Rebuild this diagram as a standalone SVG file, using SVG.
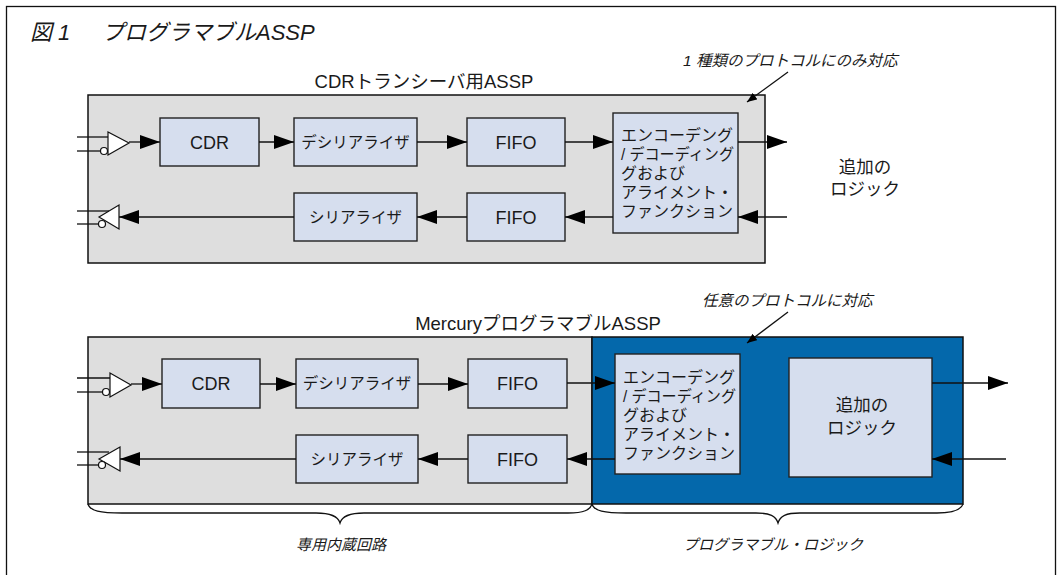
<svg xmlns="http://www.w3.org/2000/svg" width="1060" height="575" viewBox="0 0 1060 575">
<style>
text{font-family:"Liberation Sans","Noto Sans CJK JP",sans-serif;fill:#1a1a1a}
.it{font-style:italic}
.panel{fill:#dedede;stroke:#111;stroke-width:1.5}
.blue{fill:#0468ab;stroke:#111;stroke-width:1.5}
.box{fill:#d6deee;stroke:#222;stroke-width:1.4}
.ln{fill:none;stroke:#111;stroke-width:1.3}
.buf{fill:#fff;stroke:#111;stroke-width:1.2}
.c{text-anchor:middle}
.lbl{font-size:18.5px}
.b18{font-size:18px}
.b15{font-size:15.5px}
.b16{font-size:16px}
.b17{font-size:17.5px}
.ann{font-size:15.5px}
</style>
<defs>
<marker id="ah" markerUnits="userSpaceOnUse" markerWidth="20" markerHeight="14" refX="20" refY="7" orient="auto">
<path d="M0,0 L20,7 L0,14 z" fill="#000"/>
</marker>
<marker id="sa" markerUnits="userSpaceOnUse" markerWidth="10" markerHeight="8" refX="10" refY="4" orient="auto">
<path d="M0,0 L10,4 L0,8 z" fill="#000"/>
</marker>
</defs>

<rect x="6.5" y="6.5" width="1049" height="600" fill="#fff" stroke="#111" stroke-width="1.3"/>
<text x="30" y="40" class="it" style="font-size:22px">図 1<tspan x="102">プログラマブルASSP</tspan></text>

<!-- top section -->
<g id="cdr-assp">
<rect class="panel" x="88" y="95" width="677" height="168"/>
<text class="c lbl" x="424" y="88">CDRトランシーバ用ASSP</text>
</g>
<g id="t-cdr"><rect class="box" x="160" y="118" width="99" height="48"/><text class="c b18" x="209.5" y="148.5">CDR</text></g>
<g id="t-deser"><rect class="box" x="294" y="118" width="123" height="48"/><text class="c b15" x="355.5" y="147.5">デシリアライザ</text></g>
<g id="t-fifo1"><rect class="box" x="467" y="118" width="98" height="48"/><text class="c b18" x="516" y="148.5">FIFO</text></g>
<g id="t-ser"><rect class="box" x="294" y="193" width="123" height="48"/><text class="c b15" x="355.5" y="222.5">シリアライザ</text></g>
<g id="t-fifo2"><rect class="box" x="467" y="193" width="98" height="48"/><text class="c b18" x="516" y="223.5">FIFO</text></g>
<g id="t-enc"><rect class="box" x="613" y="113" width="125" height="120"/>
<text class="b16" x="621" y="141">エンコーデング</text>
<text class="b16" x="621" y="160" textLength="113" lengthAdjust="spacingAndGlyphs">/ デコーディング</text>
<text class="b16" x="621" y="179">グおよび</text>
<text class="b16" x="621" y="198">アライメント・</text>
<text class="b16" x="621" y="217">ファンクション</text>
</g>
<g id="t-logic"><text class="c b17" x="865" y="173">追加の</text><text class="c b17" x="865" y="195">ロジック</text></g>
<g id="t-inbuf">
<polygon class="buf" points="108,132 108,155 129,143"/>
<circle class="buf" cx="104" cy="151" r="3.5"/>
</g>
<g id="t-outbuf">
<polygon class="buf" points="99,217 119,205 119,229"/>
<circle class="buf" cx="102" cy="224" r="3.5"/>
</g>
<g id="t-note">
<text class="it ann" x="683" y="66">1 種類のプロトコルにのみ対応</text>
</g>

<!-- bottom section -->
<g id="mercury">
<rect class="panel" x="88" y="337" width="504" height="167"/>
<rect class="blue" x="592" y="337" width="371" height="167"/>
<text class="c lbl" x="538" y="330">MercuryプログラマブルASSP</text>
</g>
<g id="b-cdr"><rect class="box" x="162" y="359" width="98" height="49"/><text class="c b18" x="211" y="390">CDR</text></g>
<g id="b-deser"><rect class="box" x="296" y="359" width="122" height="49"/><text class="c b15" x="357" y="389">デシリアライザ</text></g>
<g id="b-fifo1"><rect class="box" x="468" y="359" width="99" height="49"/><text class="c b18" x="517.5" y="390">FIFO</text></g>
<g id="b-ser"><rect class="box" x="296" y="435" width="122" height="48"/><text class="c b15" x="357" y="464.5">シリアライザ</text></g>
<g id="b-fifo2"><rect class="box" x="468" y="435" width="99" height="48"/><text class="c b18" x="517.5" y="465.5">FIFO</text></g>
<g id="b-enc"><rect class="box" x="615" y="354" width="125" height="120"/>
<text class="b16" x="623" y="383">エンコーデング</text>
<text class="b16" x="623" y="402" textLength="113" lengthAdjust="spacingAndGlyphs">/ デコーディング</text>
<text class="b16" x="623" y="421">グおよび</text>
<text class="b16" x="623" y="440">アライメント・</text>
<text class="b16" x="623" y="459">ファンクション</text>
</g>
<g id="b-logic"><rect class="box" x="789" y="358" width="143" height="119"/>
<text class="c b17" x="862" y="411">追加の</text><text class="c b17" x="862" y="434">ロジック</text></g>
<g id="b-inbuf">
<polygon class="buf" points="110,373 110,397 131,385"/>
<circle class="buf" cx="106" cy="392" r="3.5"/>
</g>
<g id="b-outbuf">
<polygon class="buf" points="99,459 120,447 120,471"/>
<circle class="buf" cx="102" cy="465" r="3.5"/>
</g>
<g id="b-note">
<text class="it ann" x="702" y="306">任意のプロトコルに対応</text>
</g>
<g id="braces">
<path class="ln" d="M88,504 C90,511 100,513 122,513 L316,513 C330,513 338,516 340,523 C342,516 350,513 364,513 L568,513 C584,513 590,510 592,504"/>
<path class="ln" d="M592,504 C594,511 604,513 626,513 L756,513 C770,513 776,516 778,523 C780,516 786,513 800,513 L937,513 C953,513 961,510 963,504"/>
<text class="c it" style="font-size:15px" x="341" y="550">専用内蔵回路</text>
<text class="c it" style="font-size:15px" x="773" y="550">プログラマブル・ロジック</text>
</g>

<g id="connectors">
<!-- top -->
<line class="ln" x1="77" y1="137" x2="108" y2="137"/>
<line class="ln" x1="77" y1="151" x2="100.5" y2="151"/>
<line class="ln" x1="129" y1="142" x2="160" y2="142" marker-end="url(#ah)"/>
<line class="ln" x1="259" y1="142" x2="294" y2="142" marker-end="url(#ah)"/>
<line class="ln" x1="417" y1="142" x2="467" y2="142" marker-end="url(#ah)"/>
<line class="ln" x1="565" y1="142" x2="613" y2="142" marker-end="url(#ah)"/>
<line class="ln" x1="738" y1="142" x2="787" y2="142" marker-end="url(#ah)"/>
<line class="ln" x1="787" y1="217" x2="738" y2="217" marker-end="url(#ah)"/>
<line class="ln" x1="613" y1="217" x2="565" y2="217" marker-end="url(#ah)"/>
<line class="ln" x1="467" y1="217" x2="417" y2="217" marker-end="url(#ah)"/>
<line class="ln" x1="294" y1="217" x2="119" y2="217" marker-end="url(#ah)"/>
<line class="ln" x1="77" y1="211" x2="109" y2="211"/>
<line class="ln" x1="77" y1="224" x2="98.5" y2="224"/>
<line class="ln" x1="788" y1="72" x2="747" y2="102" marker-end="url(#sa)" stroke-width="1"/>
<!-- bottom -->
<line class="ln" x1="77" y1="378" x2="110" y2="378"/>
<line class="ln" x1="77" y1="392" x2="102.5" y2="392"/>
<line class="ln" x1="131" y1="384" x2="162" y2="384" marker-end="url(#ah)"/>
<line class="ln" x1="260" y1="384" x2="296" y2="384" marker-end="url(#ah)"/>
<line class="ln" x1="418" y1="384" x2="468" y2="384" marker-end="url(#ah)"/>
<line class="ln" x1="567" y1="383" x2="615" y2="383" marker-end="url(#ah)"/>
<line class="ln" x1="932" y1="383" x2="1008" y2="383" marker-end="url(#ah)"/>
<line class="ln" x1="1006" y1="459" x2="932" y2="459" marker-end="url(#ah)"/>
<line class="ln" x1="615" y1="459" x2="567" y2="459" marker-end="url(#ah)"/>
<line class="ln" x1="468" y1="459" x2="418" y2="459" marker-end="url(#ah)"/>
<line class="ln" x1="296" y1="459" x2="120" y2="459" marker-end="url(#ah)"/>
<line class="ln" x1="77" y1="452" x2="109" y2="452"/>
<line class="ln" x1="77" y1="465" x2="98.5" y2="465"/>
<line class="ln" x1="788" y1="312" x2="747" y2="343" marker-end="url(#sa)" stroke-width="1"/>
</g>
</svg>
